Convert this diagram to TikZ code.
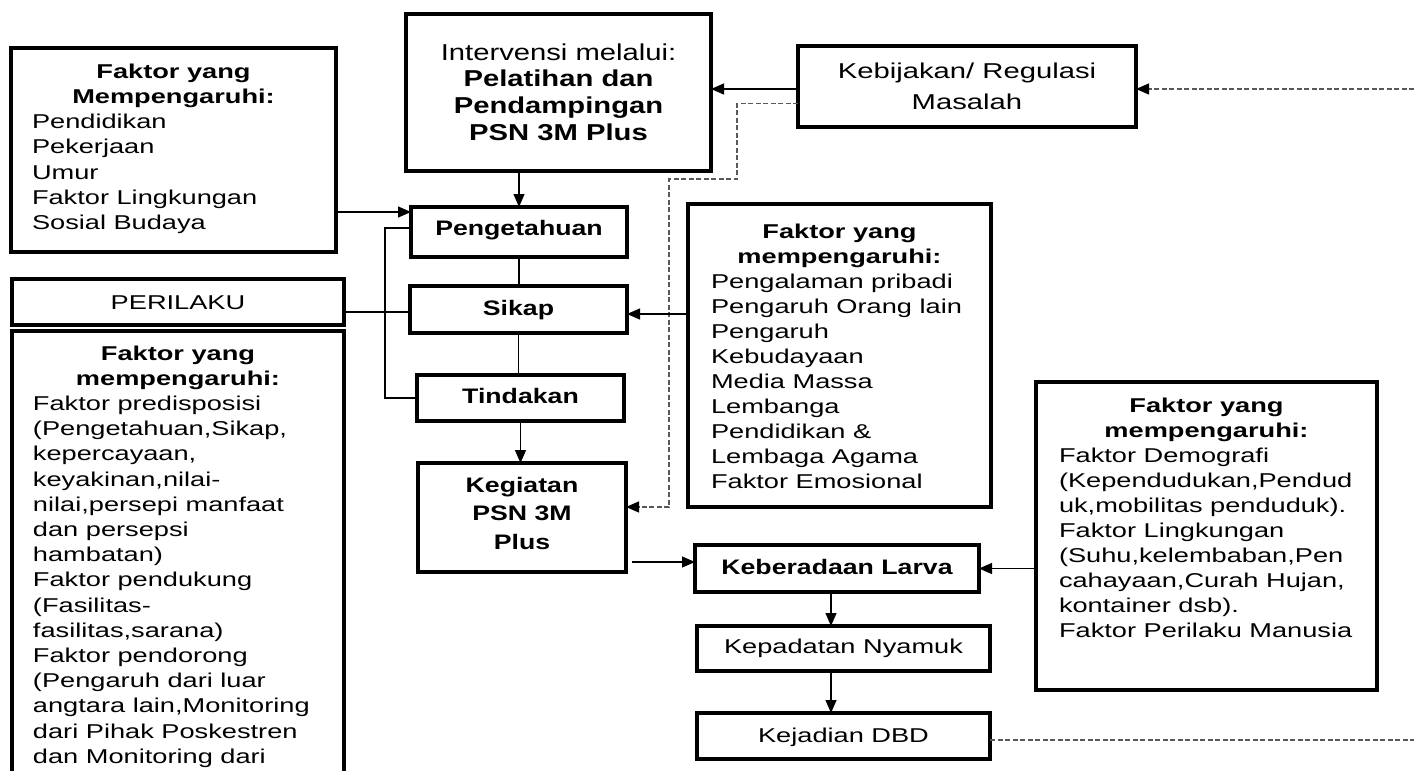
\documentclass[tikz,border=0pt]{standalone}
\usepackage{fontspec}
\setmainfont{Liberation Sans}
\newfontfamily\fA[FakeStretch=1.36]{Liberation Sans}
\newfontfamily\fB[FakeStretch=1.27]{Liberation Sans}
\usetikzlibrary{arrows.meta,calc}
\newcommand\tb[4]{\parbox[t][#2][t]{#1}{\parskip=0pt\relax\vspace*{#3}#4}}
\begin{document}
\begin{tikzpicture}[x=1pt,y=-1pt,
 box/.style={draw, line width=3.5pt, inner sep=0pt, outer sep=0pt, anchor=north west},
 ln/.style={line width=1.3pt},
 arr/.style={ln, -{Triangle[length=13pt,width=11pt]}},
 dsh/.style={line width=1.2pt, black!65, dash pattern=on 5pt off 2.5pt},
 darr/.style={dsh, -{Triangle[length=13pt,width=11pt,color=black]}}]
\clip (0,0) rectangle (1414,771);

\node[box] (fk1) at (11,48) {\tb{325pt}{204pt}{12.3pt}{\fA\fontsize{20}{25.3}\selectfont
 {\centering\bfseries\strut Faktor yang\\Mempengaruhi:\par}
 {\raggedright\leftskip=21pt Pendidikan\\Pekerjaan\\Umur\\Faktor Lingkungan\\Sosial Budaya\par}}};

\node[box] (interv) at (406,14) {\tb{305pt}{157pt}{27.1pt}{\fB\fontsize{23}{27}\selectfont\centering\strut Intervensi melalui:\\\bfseries Pelatihan dan\\Pendampingan\\PSN 3M Plus\par}};

\node[box] (kebij) at (798,46) {\tb{338pt}{81pt}{10.3pt}{\fA\fontsize{21.5}{31}\selectfont\centering\strut Kebijakan/ Regulasi\\Masalah\par}};

\node[box] (peng) at (411,207) {\tb{216pt}{50pt}{10.5pt}{\fB\bfseries\fontsize{21}{25}\selectfont\centering\strut Pengetahuan\par}};
\node[box] (sikap) at (410,286) {\tb{217pt}{47pt}{11.5pt}{\fB\bfseries\fontsize{21}{25}\selectfont\centering\strut Sikap\par}};
\node[box] (tind) at (417,375) {\tb{207pt}{46pt}{10.5pt}{\fB\bfseries\fontsize{21}{25}\selectfont\centering\strut Tindakan\par}};
\node[box] (keg) at (418,463) {\tb{208pt}{109pt}{9.05pt}{\fB\bfseries\fontsize{21}{28.5}\selectfont\centering\strut Kegiatan\\PSN 3M\\Plus\par}};

\node[box] (keber) at (695,545) {\tb{284pt}{47pt}{11.5pt}{\fB\bfseries\fontsize{21}{25}\selectfont\centering\strut Keberadaan Larva\par}};
\node[box] (kepad) at (697,626) {\tb{293pt}{45pt}{9.5pt}{\fA\fontsize{20}{25}\selectfont\centering\strut Kepadatan Nyamuk\par}};
\node[box] (kejad) at (697,713) {\tb{293pt}{46pt}{11.5pt}{\fA\fontsize{20}{25}\selectfont\centering\strut Kejadian DBD\par}};

\node[box] (fk2) at (688,204) {\tb{303pt}{303pt}{16.5pt}{\fA\fontsize{20}{25}\selectfont
 {\centering\bfseries\strut Faktor yang\\mempengaruhi:\par}
 {\raggedright\leftskip=23pt Pengalaman pribadi\\Pengaruh Orang lain\\Pengaruh\\Kebudayaan\\Media Massa\\Lembanga\\Pendidikan \&\\Lembaga Agama\\Faktor Emosional\par}}};

\node[box] (fk3) at (1036,382) {\tb{341pt}{308pt}{12.5pt}{\fA\fontsize{20}{25}\selectfont
 {\centering\bfseries\strut Faktor yang\\mempengaruhi:\par}
 {\raggedright\leftskip=23pt Faktor Demografi\\(Kependudukan,Pendud\\uk,mobilitas penduduk).\\Faktor Lingkungan\\(Suhu,kelembaban,Pen\\cahayaan,Curah Hujan,\\kontainer dsb).\\Faktor Perilaku Manusia\par}}};

\node[box] (perilaku) at (12,279) {\tb{332pt}{46pt}{12.5pt}{\fA\fontsize{20}{25}\selectfont\centering\strut PERILAKU\par}};

\node[box] (fk4) at (12,331) {\tb{332pt}{469pt}{11.36pt}{\fA\fontsize{20}{25.2}\selectfont
 {\centering\bfseries\strut Faktor yang\\mempengaruhi:\par}
 {\raggedright\leftskip=21pt Faktor predisposisi\\(Pengetahuan,Sikap,\\kepercayaan,\\keyakinan,nilai-\\nilai,persepi manfaat\\dan persepsi\\hambatan)\\Faktor pendukung\\(Fasilitas-\\fasilitas,sarana)\\Faktor pendorong\\(Pengaruh dari luar\\angtara lain,Monitoring\\dari Pihak Poskestren\\dan Monitoring dari\par}}};

% connectors
\draw[arr] ([yshift=-164pt]fk1.north east) coordinate (a1) -- (a1 -| peng.west);
\draw[arr] (peng.north |- interv.south) -- (peng.north);
\draw[arr] ([yshift=-2.5pt]kebij.west) coordinate (a2) -- (a2 -| interv.east);
\coordinate (rin) at (1414,89);
\draw[darr] (rin) -- (rin -| kebij.east);
\draw[darr] ([yshift=-17pt]kebij.west) -- ++(-61,0) -- ++(0,75.5) -- ++(-68,0) |- ([yshift=10.5pt]keg.east);
\draw[ln] ([yshift=4pt]peng.west) -- ++(-26,0) |- (tind.west);
\draw[ln] (peng.south) -- (peng.south |- sikap.north);
\draw[ln] (sikap.south) -- (sikap.south |- tind.north);
\draw[arr] (tind.south) -- (tind.south |- keg.north);
\draw[ln] ([yshift=-10pt]perilaku.east) coordinate (a3) -- (a3 -| sikap.west);
\coordinate (s1) at ([yshift=-4.5pt]sikap.east);
\draw[arr] (fk2.west |- s1) -- (s1);
\coordinate (k1) at ([yshift=6.5pt]keber.west);
\coordinate (k0) at ([xshift=6pt]keg.east);
\draw[arr] (k0 |- k1) -- (k1);
\draw[arr] (fk3.west |- keber.east) -- (keber.east);
\coordinate (v1) at ([xshift=-6pt]keber.south);
\draw[arr] (v1) -- (v1 |- kepad.north);
\coordinate (v2) at (v1 |- kepad.south);
\draw[arr] (v2) -- (v2 |- kejad.north);
\coordinate (rout) at (1414,740);
\draw[dsh] ([yshift=-4pt]kejad.east) coordinate (a4) -- (a4 -| rout);
\end{tikzpicture}
\end{document}
